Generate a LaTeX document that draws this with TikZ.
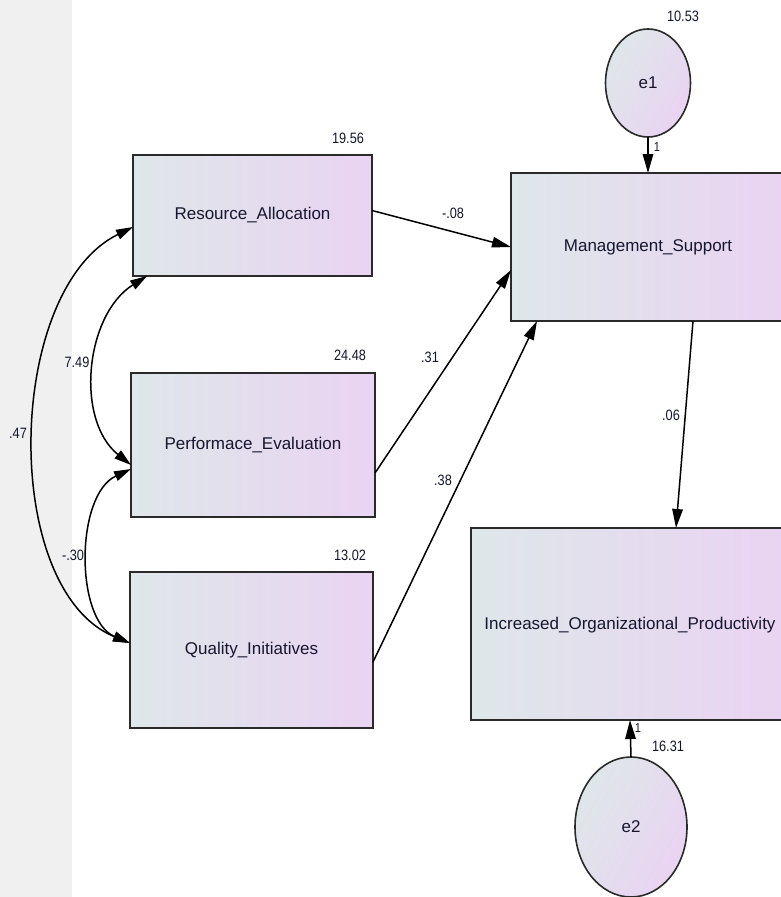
\documentclass[tikz,border=0pt]{standalone}
\usepackage{fontspec}
\setmainfont{Liberation Sans}
\newfontfamily\numf[FakeStretch=0.85]{Liberation Sans}
\usetikzlibrary{arrows.meta,shapes.geometric,calc}
\definecolor{boxL}{HTML}{DEE7E9}
\definecolor{boxR}{HTML}{EAD3F3}
\definecolor{strip}{HTML}{F0F0F0}
\definecolor{ink}{HTML}{16162E}
\definecolor{edge}{HTML}{2A2A2A}
\begin{document}
\begin{tikzpicture}[x=1pt,y=-1pt,
  var/.style={draw=edge,line width=1.8pt,rectangle,inner sep=0pt,outer sep=0pt,
     left color=boxL,right color=boxR,text=ink,font=\fontsize{17}{20}\selectfont},
  err/.style={draw=edge,line width=1.6pt,ellipse,inner sep=0pt,outer sep=0pt,
     left color=boxL,right color=boxR,shading angle=60,text=ink,font=\fontsize{17}{20}\selectfont},
  num/.style={text=ink,font=\numf\fontsize{15}{18}\selectfont,inner sep=0pt},
  path/.style={line width=1.5pt,draw=black,-{Triangle[length=19pt,width=10.5pt]}},
  cov/.style={line width=1.5pt,draw=black,{Triangle[length=17pt,width=10pt]}-{Triangle[length=17pt,width=10pt]}}
]
\useasboundingbox (0,0) rectangle (781,897);
\fill[white] (0,0) rectangle (781,897);
\fill[strip] (0,0) rectangle (72,897);

% observed variables
\node[var,minimum width=239pt,minimum height=121pt] (ra) at (252.5,215.5) {Resource\_Allocation};
\node[var,minimum width=244pt,minimum height=144pt] (pe) at (253,445) {Performace\_Evaluation};
\node[var,minimum width=243pt,minimum height=156pt] (qi) at (251.5,650) {Quality\_Initiatives};
\node[var,minimum width=274pt,minimum height=148pt] (ms) at (648,247) {Management\_Support};
\node[var,minimum width=318pt,minimum height=192pt,text depth=0pt] (iop) at (630,624) {};
\node[text=ink,font=\fontsize{17}{20}\selectfont,inner sep=0pt] (ioptxt) at (630,625) {Increased\_Organizational\_Productivity};

% error terms
\node[err,minimum width=85pt,minimum height=108pt] (e1) at (648,83) {e1};
\node[err,minimum width=112pt,minimum height=140pt] (e2) at (631,827) {e2};

% regression paths
\draw[path] ([yshift=5pt]ra.east) -- (ms.west);
\draw[path] ([yshift=-28pt]pe.east) -- ([yshift=-23pt]ms.west);
\draw[path] ([yshift=-12pt]qi.east) -- ([xshift=26pt]ms.south west);
\draw[path] ([xshift=45pt]ms.south) -- ([xshift=46pt]iop.north);
\draw[path] (e1.south) -- (ms.north);
\draw[path] (e2.north) -- (iop.south);

% covariances
\draw[cov] ([xshift=14pt]ra.south west) .. controls (85,315) and (75,420) .. ([yshift=-20pt]pe.west);
\draw[cov] ([yshift=-24pt]pe.west) .. controls (75,495) and (75,620) .. ([yshift=7pt]qi.west);
\draw[cov] ([yshift=-11.5pt]ra.west) .. controls (5,290) and (0,590) .. ([yshift=7pt]qi.west);

% numbers
\node[num] (n1) at (348,138) {19.56};
\node[num] (n2) at (683,16) {10.53};
\node[num] (n3) at (453,213) {-.08};
\node[num] (n4) at (77,362) {7.49};
\node[num] (n5) at (350,355) {24.48};
\node[num] (n6) at (430,357) {.31};
\node[num] (n7) at (18,433) {.47};
\node[num] (n8) at (671,415) {.06};
\node[num] (n9) at (443,480) {.38};
\node[num] (n10) at (73,555) {-.30};
\node[num] (n11) at (350,555) {13.02};
\node[num,font=\numf\fontsize{13}{15}\selectfont] (n12) at (657,147) {1};
\node[num,font=\numf\fontsize{13}{15}\selectfont] (n13) at (638,728) {1};
\node[num] (n14) at (668,746) {16.31};
\end{tikzpicture}
\end{document}
